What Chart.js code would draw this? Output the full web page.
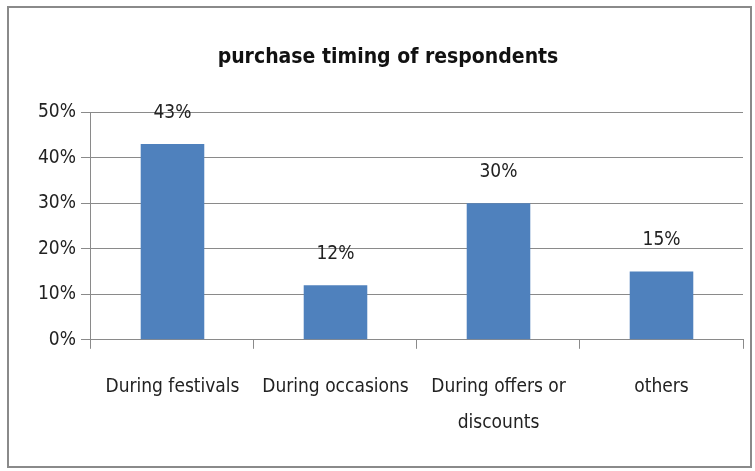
<!DOCTYPE html>
<html>
<head>
<meta charset="utf-8">
<script src="https://cdn.jsdelivr.net/npm/chart.js@4"></script>
<style>
  html, body { margin: 0; padding: 0; background: #fff; }
  #wrap { position: relative; width: 755px; height: 471px; }
  #frame { position: absolute; left: 7px; top: 6px; width: 745px; height: 462px; border: 2px solid #8a8a8a; box-sizing: border-box; pointer-events: none; }
</style>
</head>
<body>
<div id="wrap">
  <canvas id="chart" width="755" height="471"></canvas>
  <div id="frame"></div>
</div>
<script>
// дані графіка
const categories = ["During festivals", "During occasions", ["During offers or", "discounts"], "others"];
const shares = [43, 12, 30, 15];
const yTicks = [0, 10, 20, 30, 40, 50];

const fontFamily = "'Liberation Sans Narrow', 'DejaVu Sans Condensed', sans-serif";

// підписи значень над стовпчиками
const valueLabels = {
    id: "valueLabels",
    afterDatasetsDraw(chart) {
        const ctx = chart.ctx;
        const meta = chart.getDatasetMeta(0);
        ctx.save();
        ctx.font = "19px " + fontFamily;
        ctx.fillStyle = "#222";
        ctx.textAlign = "center";
        ctx.textBaseline = "middle";
        meta.data.forEach((bar, i) => {
            ctx.fillText(shares[i] + "%", bar.x, bar.y - 31);
        });
        ctx.restore();
    }
};

new Chart(document.getElementById("chart"), {
    type: "bar",
    data: {
        labels: categories,
        datasets: [{
            data: shares,
            backgroundColor: "#4f81bd",
            barPercentage: 0.39,
            categoryPercentage: 1
        }]
    },
    options: {
        responsive: false,
        animation: false,
        layout: { padding: { top: 45, left: 33, right: 12, bottom: 10 } },
        plugins: {
            legend: { display: false },
            tooltip: { enabled: false },
            title: {
                display: true,
                text: "purchase timing of respondents",
                color: "#111",
                font: { family: fontFamily, size: 21, weight: "bold" },
                padding: { top: 0, bottom: 42 }
            }
        },
        scales: {
            y: {
                min: 0,
                max: 50,
                afterBuildTicks(axis) { axis.ticks = yTicks.map(v => ({ value: v })); },
                ticks: {
                    callback: v => v + "%",
                    color: "#222",
                    padding: 5,
                    font: { family: fontFamily, size: 19 }
                },
                grid: { color: "#8a8a8a", tickLength: 10, drawTicks: true },
                border: { color: "#8a8a8a" }
            },
            x: {
                ticks: {
                    color: "#222",
                    padding: 20,
                    maxRotation: 0,
                    autoSkip: false,
                    font: { family: fontFamily, size: 19, lineHeight: 1.9 }
                },
                grid: { drawOnChartArea: false, color: "#8a8a8a", tickLength: 9, offset: true },
                border: { color: "#8a8a8a" }
            }
        }
    },
    plugins: [valueLabels]
});
</script>
</body>
</html>
